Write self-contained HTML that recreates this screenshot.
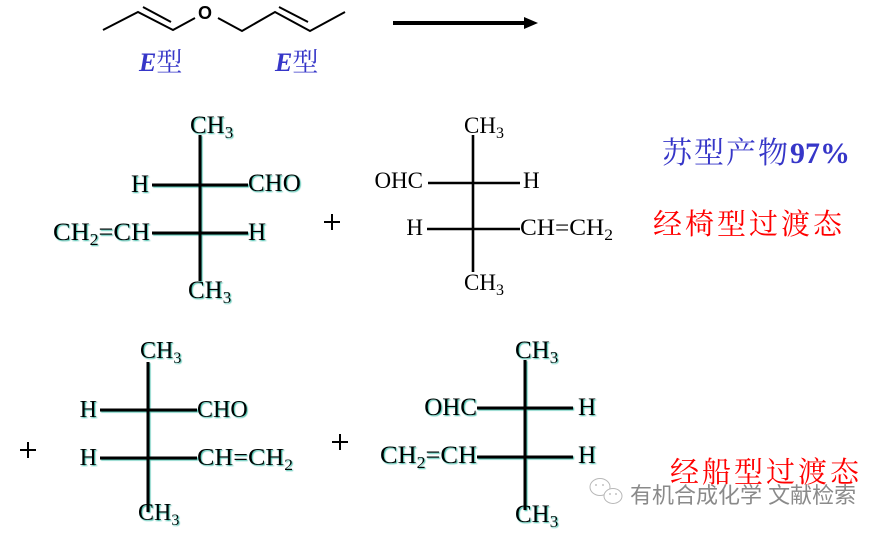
<!DOCTYPE html>
<html><head><meta charset="utf-8"><style>
html,body{margin:0;padding:0;background:#fff;}
svg{display:block;}
.t{font-family:"Liberation Serif",serif;fill:#000;}
.cj{font-family:"Liberation Serif","Noto Serif CJK SC",serif;}
</style></head><body>
<svg width="883" height="534" viewBox="0 0 883 534" xmlns="http://www.w3.org/2000/svg">
<defs>
<filter id="sh" x="-10%" y="-10%" width="130%" height="130%">
<feDropShadow dx="1" dy="1" stdDeviation="0.6" flood-color="#2fb5a0" flood-opacity="0.9"/>
</filter>
</defs>
<rect width="883" height="534" fill="#fff"/>

<!-- top skeletal formula -->
<g stroke="#000" stroke-width="2" fill="none">
<polyline points="103,30 138,12 173,30 195,18"/>
<line x1="143" y1="7" x2="171" y2="22"/>
<polyline points="218,18 242,31 275,12 310,31 345,12"/>
<line x1="279" y1="7" x2="308" y2="22"/>
</g>
<text x="205" y="19" text-anchor="middle" font-family="Liberation Sans,sans-serif" font-weight="bold" font-size="18" fill="#000">O</text>
<!-- arrow -->
<line x1="393" y1="23" x2="528" y2="23" stroke="#000" stroke-width="4"/>
<polygon points="524,17 538,23 524,29" fill="#000"/>

<text x="139" y="71" class="cj" font-size="26" fill="#3636c8"><tspan font-weight="bold" font-style="italic">E</tspan>型</text>
<text x="275" y="71" class="cj" font-size="26" fill="#3636c8"><tspan font-weight="bold" font-style="italic">E</tspan>型</text>

<!-- Structure 1 -->
<g filter="url(#sh)">
<g stroke="#000" stroke-width="3">
<line x1="200" y1="135" x2="200" y2="281"/>
<line x1="152" y1="185" x2="248" y2="185"/>
<line x1="152" y1="233" x2="248" y2="233"/>
</g>
<g class="t" font-size="25">
<text x="190" y="133" class="t">CH<tspan font-size="17" dy="5">3</tspan></text>
<text x="149" y="192" class="t" text-anchor="end">H</text>
<text x="248" y="191" class="t">CHO</text>
<text x="53" y="240" class="t" textLength="97" lengthAdjust="spacingAndGlyphs">CH<tspan font-size="17" dy="5">2</tspan><tspan dy="-5">=CH</tspan></text>
<text x="248" y="240" class="t">H</text>
<text x="188" y="298" class="t">CH<tspan font-size="17" dy="5">3</tspan></text>
</g>
</g>
<g stroke="#000" stroke-width="2">
<line x1="324" y1="222" x2="340" y2="222"/><line x1="332" y1="214" x2="332" y2="230"/>
</g>

<!-- Structure 2 -->
<g stroke="#000" stroke-width="2.6">
<line x1="473" y1="135" x2="473" y2="272"/>
<line x1="428" y1="183" x2="520" y2="183"/>
<line x1="427" y1="229" x2="520" y2="229"/>
</g>
<g font-size="23">
<text x="464" y="133" class="t">CH<tspan font-size="16" dy="5">3</tspan></text>
<text x="423" y="188" class="t" text-anchor="end">OHC</text>
<text x="523" y="188" class="t">H</text>
<text x="423" y="235" class="t" text-anchor="end">H</text>
<text x="520" y="235" class="t" textLength="93" lengthAdjust="spacingAndGlyphs">CH=CH<tspan font-size="16" dy="5">2</tspan></text>
<text x="464" y="290" class="t">CH<tspan font-size="16" dy="5">3</tspan></text>
</g>

<!-- labels right -->
<text x="662" y="163" class="cj" font-size="30" fill="#3636c8"><tspan letter-spacing="2">苏型产物</tspan><tspan font-weight="bold">97%</tspan></text>
<text x="653" y="234" class="cj" font-size="29" letter-spacing="3" fill="#ff0000">经椅型过渡态</text>
<text x="670" y="482" class="cj" font-size="29" letter-spacing="3" fill="#ff0000">经船型过渡态</text>

<!-- Structure 3 -->
<g stroke="#000" stroke-width="2">
<line x1="20" y1="450" x2="36" y2="450"/><line x1="28" y1="442" x2="28" y2="458"/>
</g>
<g filter="url(#sh)">
<g stroke="#000" stroke-width="3">
<line x1="148" y1="362" x2="148" y2="512"/>
<line x1="100" y1="410" x2="197" y2="410"/>
<line x1="100" y1="458" x2="197" y2="458"/>
</g>
<g font-size="24">
<text x="140" y="358" class="t">CH<tspan font-size="16" dy="5">3</tspan></text>
<text x="97" y="417" class="t" text-anchor="end">H</text>
<text x="197" y="417" class="t">CHO</text>
<text x="97" y="465" class="t" text-anchor="end">H</text>
<text x="197" y="465" class="t" textLength="96" lengthAdjust="spacingAndGlyphs">CH=CH<tspan font-size="16" dy="5">2</tspan></text>
<text x="138" y="520" class="t">CH<tspan font-size="16" dy="5">3</tspan></text>
</g>
</g>

<!-- Structure 4 -->
<g stroke="#000" stroke-width="2">
<line x1="332" y1="442" x2="348" y2="442"/><line x1="340" y1="434" x2="340" y2="450"/>
</g>
<g filter="url(#sh)">
<g stroke="#000" stroke-width="3">
<line x1="525" y1="360" x2="525" y2="510"/>
<line x1="477" y1="408" x2="573" y2="408"/>
<line x1="477" y1="457" x2="573" y2="457"/>
</g>
<g font-size="25">
<text x="515" y="358" class="t">CH<tspan font-size="17" dy="5">3</tspan></text>
<text x="477" y="415" class="t" text-anchor="end">OHC</text>
<text x="578" y="415" class="t">H</text>
<text x="380" y="463" class="t" textLength="97" lengthAdjust="spacingAndGlyphs">CH<tspan font-size="17" dy="5">2</tspan><tspan dy="-5">=CH</tspan></text>
<text x="578" y="463" class="t">H</text>
<text x="515" y="522" class="t">CH<tspan font-size="17" dy="5">3</tspan></text>
</g>
</g>

<!-- watermark -->
<g fill="none" stroke="#b8b8b8" stroke-width="1">
<ellipse cx="600" cy="487" rx="10" ry="8.5"/>
<ellipse cx="613" cy="496" rx="9" ry="7.5" fill="#fff"/>
</g>
<g fill="#b0b0b0">
<circle cx="596" cy="485" r="0.9"/><circle cx="603" cy="485" r="0.9"/>
<circle cx="610" cy="494" r="0.9"/><circle cx="616" cy="494" r="0.9"/>
</g>
<text x="630" y="503" font-family="Liberation Sans,'Noto Sans CJK SC',sans-serif" font-size="22" fill="#8a8a8a">有机合成化学 文献检索</text>
</svg>
</body></html>
